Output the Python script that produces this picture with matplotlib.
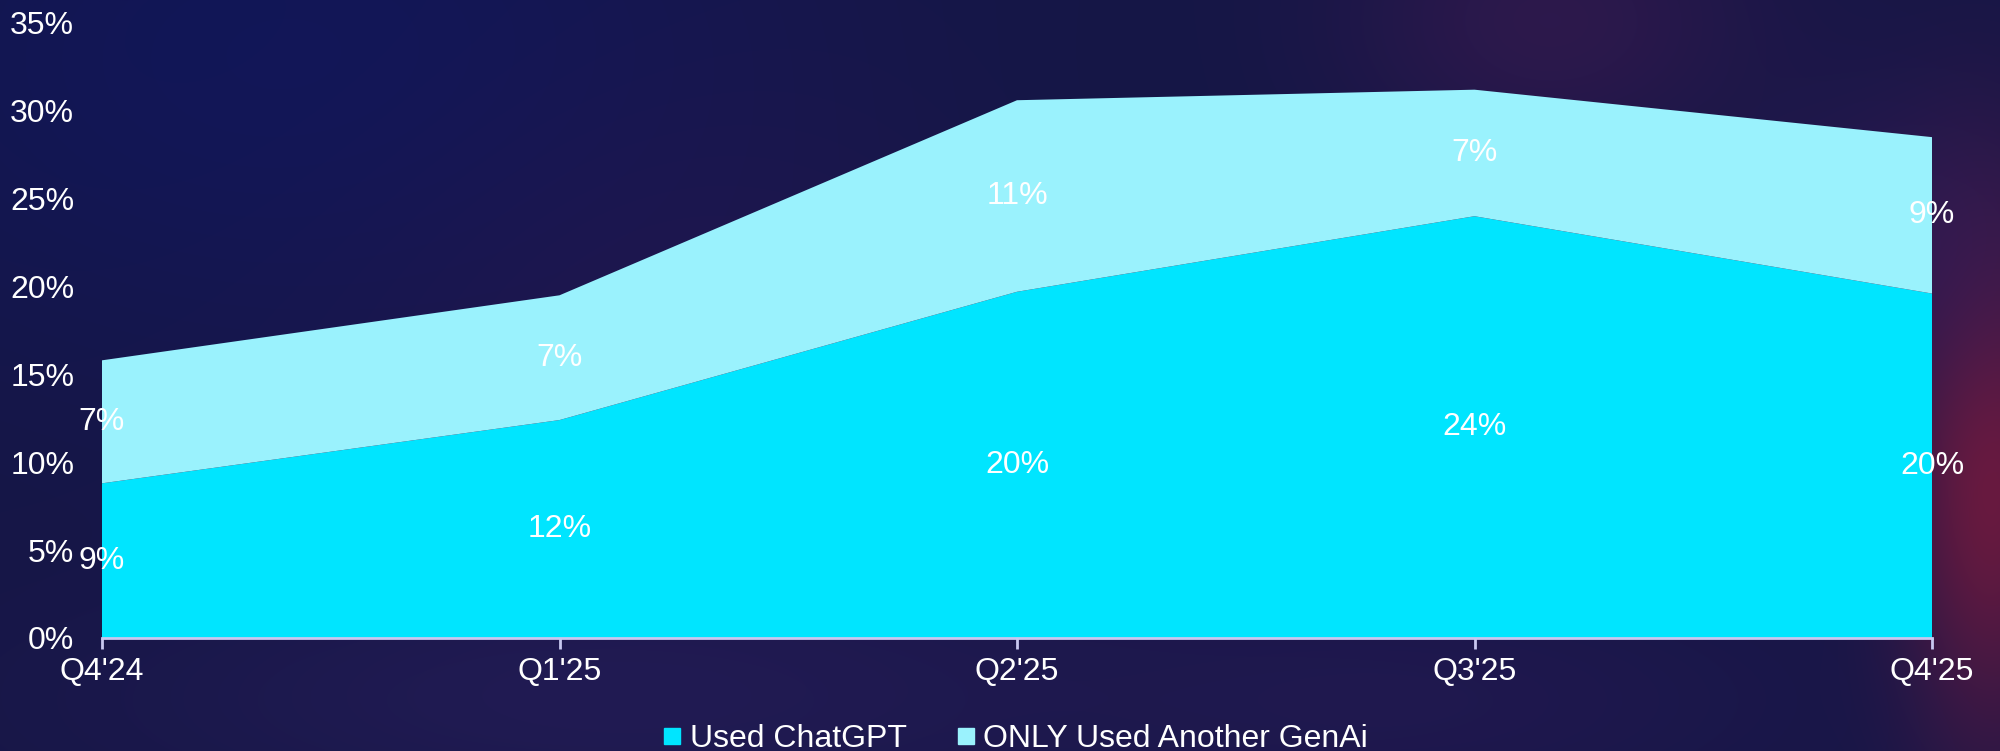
import numpy as np
import matplotlib.pyplot as plt
from matplotlib.lines import Line2D

quarters = ["Q4'24", "Q1'25", "Q2'25", "Q3'25", "Q4'25"]
used_chatgpt = [8.8, 12.4, 19.7, 24.0, 19.6]
only_other = [7.0, 7.1, 10.9, 7.2, 8.9]
series_names = ["Used ChatGPT", "ONLY Used Another GenAi"]
series_colors = ["#00e5ff", "#9af2fd"]
yticks = [0, 5, 10, 15, 20, 25, 30, 35]

W, H = 2000, 751
fig = plt.figure(figsize=(W / 100, H / 100), dpi=100)

# blurred dark background
yy, xx = np.mgrid[0:H, 0:W].astype(float)
bg = np.zeros((H, W, 3))
bg[:] = np.array([22, 22, 70]) / 255.0


def blob(cx, cy, rx, ry, rgb, strength):
    g = np.exp(-(((xx - cx) / rx) ** 2 + ((yy - cy) / ry) ** 2))[..., None]
    return g * strength, np.array(rgb) / 255.0


for cx, cy, rx, ry, rgb, s in [
    (300, 60, 500, 300, (16, 22, 92), 0.8),
    (700, 380, 350, 300, (38, 22, 80), 0.6),
    (1150, 80, 220, 200, (20, 22, 70), 0.6),
    (1550, 20, 200, 140, (60, 26, 80), 0.6),
    (1990, 480, 90, 260, (115, 26, 62), 0.9),
    (1900, 250, 150, 150, (55, 28, 88), 0.6),
    (600, 700, 500, 120, (38, 30, 90), 0.6),
    (1400, 700, 400, 120, (40, 26, 86), 0.5),
]:
    g, c = blob(cx, cy, rx, ry, rgb, s)
    bg = bg * (1 - g) + c * g

bgax = fig.add_axes([0, 0, 1, 1], zorder=-1)
bgax.imshow(bg, aspect="auto", extent=[0, 1, 0, 1])
bgax.axis("off")

ax = fig.add_axes([0.051, 0.1505, 0.915, 0.819])
ax.patch.set_alpha(0)
x = np.arange(len(quarters))
ax.stackplot(x, used_chatgpt, only_other, colors=series_colors, linewidth=0)

for i in x:
    a, b = used_chatgpt[i], only_other[i]
    ax.text(i, a / 2, f"{round(a):.0f}%", ha="center", va="center",
            color="white", fontsize=23, family="Liberation Sans")
    ax.text(i, a + b / 2, f"{round(b):.0f}%", ha="center", va="center",
            color="white", fontsize=23, family="Liberation Sans")

ax.set_xlim(0, len(quarters) - 1)
ax.set_ylim(0, 35)
ax.set_xticks(x)
ax.set_xticklabels(quarters)
ax.set_yticks(yticks)
ax.set_yticklabels([f"{v}%" for v in yticks])
for s in ["top", "right", "left"]:
    ax.spines[s].set_visible(False)
ax.spines["bottom"].set_color("#c8c8f0")
ax.spines["bottom"].set_linewidth(2)
ax.tick_params(axis="y", length=0, pad=20, labelcolor="white", labelsize=23)
ax.tick_params(axis="x", length=8, width=2, color="#c8c8f0", pad=6,
               labelcolor="white", labelsize=23)
for lab in ax.get_xticklabels() + ax.get_yticklabels():
    lab.set_family("Liberation Sans")

handles = [Line2D([], [], marker="s", linestyle="none", markersize=11,
                  markerfacecolor=c, markeredgecolor=c) for c in series_colors]
leg = fig.legend(handles, series_names, loc="center", bbox_to_anchor=(0.508, 0.016),
                 ncol=2, frameon=False, handlelength=0.5, handletextpad=0.3,
                 columnspacing=1.6, prop={"family": "Liberation Sans", "size": 23})
for t in leg.get_texts():
    t.set_color("white")

fig.savefig("out.png", dpi=100)
